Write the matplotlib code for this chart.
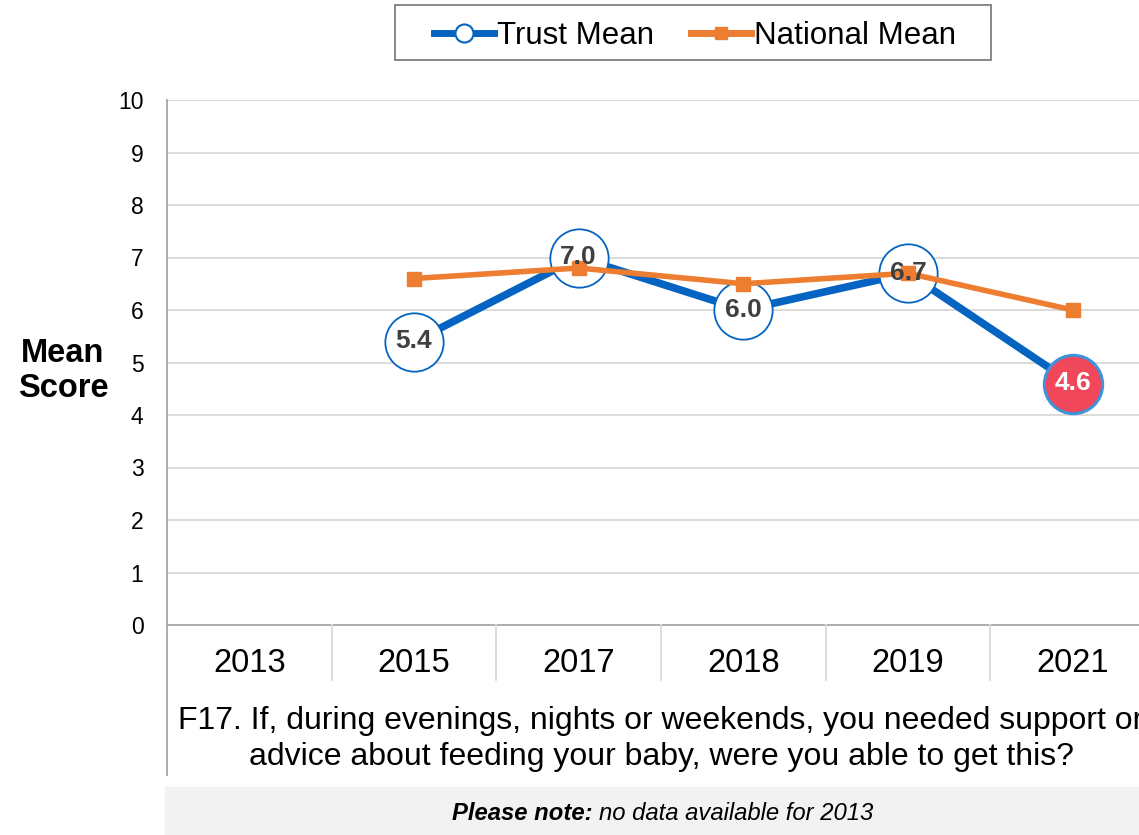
import numpy as np
import matplotlib
matplotlib.use("Agg")
import matplotlib.pyplot as plt
from matplotlib.lines import Line2D
from matplotlib.patches import Rectangle

plt.rcParams['font.family'] = ['Liberation Sans', 'DejaVu Sans']

years = ['2013', '2015', '2017', '2018', '2019', '2021']
trust_mean = [np.nan, 5.4, 7.0, 6.0, 6.7, 4.6]
national_mean = [np.nan, 6.6, 6.8, 6.5, 6.7, 6.0]
question = ('F17. If, during evenings, nights or weekends, you needed support or\n'
            'advice about feeding your baby, were you able to get this?')

BLUE = '#0563c1'
ORANGE = '#ed7d31'
RED = '#f0475a'
GRID = '#d9d9d9'
AXIS = '#a6a6a6'

W, H = 1139, 835
fig = plt.figure(figsize=(W / 100, H / 100), dpi=100)

# axes extend a little past the right edge, as in the exported slide
left, right, top, bottom = 167, 1155, 100, 625
ax = fig.add_axes([left / W, 1 - bottom / H, (right - left) / W, (bottom - top) / H])

x = np.arange(len(years))
ax.set_xlim(-0.5, len(years) - 0.5)
ax.set_ylim(0, 10)
ax.set_yticks(range(0, 11))
ax.tick_params(axis='y', length=0, labelsize=16.5, pad=17)
ax.set_xticks([])
for s in ['top', 'right', 'bottom', 'left']:
    ax.spines[s].set_visible(False)
for v in range(1, 11):
    ax.axhline(v, color=GRID, lw=1.3, zorder=0)

# category table under the plot
units_per_px = 10 / (bottom - top)
row_bottom = -(680 - bottom) * units_per_px
axis_bottom = -(775 - bottom) * units_per_px
ax.plot([-0.5, len(years) - 0.5], [0, 0], color=AXIS, lw=1.3, clip_on=False, zorder=1)
ax.plot([-0.5, -0.5], [10, axis_bottom], color=AXIS, lw=1.3, clip_on=False, zorder=1)
for b in np.arange(0.5, len(years) - 0.5):
    ax.plot([b, b], [0, row_bottom], color=GRID, lw=1.3, clip_on=False)
for xi, yr in zip(x, years):
    ax.text(xi, -(663 - bottom) * units_per_px, yr, ha='center', va='center',
            fontsize=23.5)
ax.text((len(years) - 1) / 2, -(739 - bottom) * units_per_px, question,
        ha='center', va='center', fontsize=23, linespacing=1.25)

# y axis title
fig.text(63 / W, 1 - 371 / H, 'Mean\nScore', ha='center', va='center',
         fontsize=23.5, fontweight='bold', linespacing=1.2)

# trust mean line with large circular labels
ax.plot(x, trust_mean, color=BLUE, lw=5.5, zorder=2, solid_capstyle='butt')
for xi, v in zip(x, trust_mean):
    if np.isnan(v):
        continue
    last = xi == x[-1]
    ax.plot(xi, v, 'o', ms=42, mfc=RED if last else 'white',
            mec='#3d94dc' if last else BLUE, mew=2.2 if last else 1.3, zorder=3)

# national mean on top
ax.plot(x, national_mean, color=ORANGE, lw=4, marker='s', ms=10, zorder=4)

for xi, v in zip(x, trust_mean):
    if np.isnan(v):
        continue
    last = xi == x[-1]
    ax.text(xi, v, f'{v:.1f}', ha='center', va='center', fontsize=19,
            fontweight='bold', color='white' if last else '#404040', zorder=5)

# legend, with its own wider frame
handles = [
    Line2D([0], [0], color=BLUE, lw=5, marker='o', ms=13, mfc='white', mec=BLUE,
           mew=1.5, label='Trust Mean'),
    Line2D([0], [0], color=ORANGE, lw=5, marker='s', ms=9, label='National Mean'),
]
fig.legend(handles=handles, loc='center', bbox_to_anchor=(695 / W, 1 - 36 / H),
           ncol=2, fontsize=22.5, frameon=False,
           handlelength=1.9, handletextpad=0.1, columnspacing=1.2,
           borderpad=0.25, borderaxespad=0)
fig.patches.append(Rectangle((395 / W, 1 - 60 / H), (991 - 395) / W, 55 / H,
                             transform=fig.transFigure, fill=False,
                             edgecolor='#7f7f7f', lw=1.3))

# note bar
fig.patches.append(Rectangle((165 / W, 0), (W - 165) / W, 48 / H,
                             transform=fig.transFigure, color='#f2f2f2', zorder=0))
note_y = 1 - 814 / H
lead = fig.text(452 / W, note_y, 'Please note:', ha='left', va='center',
                fontsize=17.2, fontweight='bold', fontstyle='italic')
fig.canvas.draw()
bb = lead.get_window_extent().transformed(fig.transFigure.inverted())
fig.text(bb.x1 + 6 / W, note_y, 'no data available for 2013', ha='left',
         va='center', fontsize=17.2, fontstyle='italic')

fig.savefig('out.png', dpi=100)
